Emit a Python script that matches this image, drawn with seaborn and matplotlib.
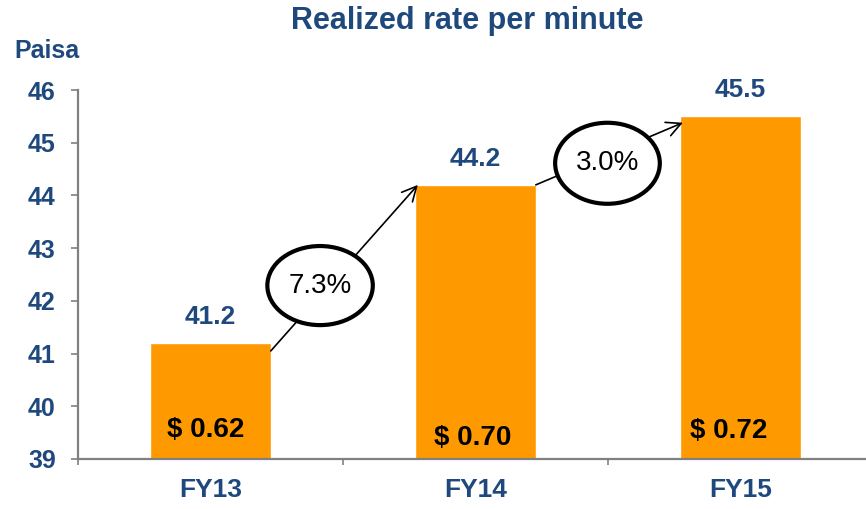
import matplotlib
matplotlib.use("Agg")
import matplotlib.pyplot as plt
from matplotlib.patches import Ellipse
from matplotlib.ticker import FixedLocator
import pandas as pd
import seaborn as sns

# Realized rate per minute, in paisa, with USD equivalents
years = ["FY13", "FY14", "FY15"]
paisa = [41.2, 44.2, 45.5]
usd_labels = ["$ 0.62", "$ 0.70", "$ 0.72"]
growth_labels = ["7.3%", "3.0%"]
y_ticks = [39, 40, 41, 42, 43, 44, 45, 46]

NAVY = "#1F497D"
ORANGE = "#FF9900"
GREY = "#808080"

sns.set_theme(style="white")
plt.rcParams["font.family"] = ["Liberation Sans", "DejaVu Sans"]

df = pd.DataFrame({"year": years, "paisa": paisa})

fig = plt.figure(figsize=(8.66, 5.09), dpi=100)
ax = fig.add_axes([78 / 866, 50 / 509, 795 / 866, 369 / 509])

bar_w = 0.455
sns.barplot(data=df, x="year", y="paisa", color=ORANGE, width=bar_w,
            saturation=1, ax=ax, zorder=2)

ax.set_ylim(39, 46)
ax.set_xlim(-0.5, 2.5)
ax.set_yticks(y_ticks)
ax.set_xlabel("")
ax.set_ylabel("")

for side in ("top", "right"):
    ax.spines[side].set_visible(False)
for side in ("left", "bottom"):
    ax.spines[side].set_color(GREY)
    ax.spines[side].set_linewidth(1.6)

ax.tick_params(axis="y", which="major", direction="out", length=5, width=1.2,
               color=GREY, left=True, pad=11, labelsize=18, labelcolor=NAVY)
ax.tick_params(axis="x", which="major", length=0, pad=14,
               labelsize=19, labelcolor=NAVY)
ax.xaxis.set_minor_locator(FixedLocator([-0.5, 0.5, 1.5, 2.5]))
ax.tick_params(axis="x", which="minor", direction="out", length=4.5,
               width=1.2, color=GREY, bottom=True)
for lab in ax.get_yticklabels() + ax.get_xticklabels():
    lab.set_fontweight("bold")

# value labels above bars
for i, v in enumerate(paisa):
    ax.text(i, v + 0.5, f"{v:.1f}", ha="center", va="center",
            fontsize=19, fontweight="bold", color=NAVY)

# USD labels inside bars
usd_pos = [(-0.02, 39.55), (-0.01, 39.40), (-0.045, 39.54)]
for (dx, y), lab, i in zip(usd_pos, usd_labels, range(len(years))):
    ax.text(i + dx, y, lab, ha="center", va="center",
            fontsize=20, fontweight="bold", color="black")

# growth arrows between bar corners, with circled percentages
ell_specs = [((0.4135, 42.29), 0.398, 1.50), ((1.498, 44.61), 0.395, 1.537)]
for i, lab in enumerate(growth_labels):
    x0, y0 = i + bar_w / 2, paisa[i] - (0.15 if i == 0 else 0)
    x1, y1 = i + 1 - bar_w / 2 + 0.01, paisa[i + 1] - (0.12 if i == 1 else 0)
    ax.annotate("", xy=(x1, y1), xytext=(x0, y0),
                arrowprops=dict(arrowstyle="->", color="black", lw=1.2,
                                mutation_scale=26, shrinkA=0, shrinkB=0),
                zorder=4)
    (cx, cy), w, h = ell_specs[i]
    ax.add_patch(Ellipse((cx, cy), w, h, facecolor="white", edgecolor="black",
                         lw=3, zorder=5))
    ax.text(cx, cy, lab, ha="center", va="center", fontsize=20,
            color="black", zorder=6)

fig.text(467 / 866, 1 - 21 / 509, "Realized rate per minute", ha="center",
         va="center", fontsize=22, fontweight="bold", color=NAVY)
fig.text(47 / 866, 1 - 51 / 509, "Paisa", ha="center", va="center",
         fontsize=18, fontweight="bold", color=NAVY)

fig.savefig("out.png", dpi=100, facecolor="white")
